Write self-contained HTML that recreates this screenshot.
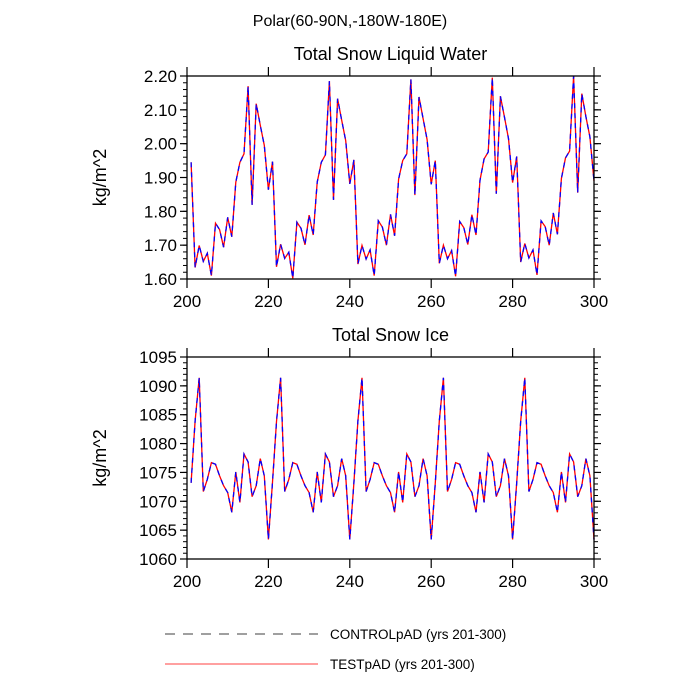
<!DOCTYPE html>
<html><head><meta charset="utf-8"><style>
body{margin:0;background:#fff;}
svg{display:block;font-family:"Liberation Sans",sans-serif;}
</style></head><body>
<svg id="chart" width="700" height="700">
<text x="350" y="26" font-size="16" text-anchor="middle">Polar(60-90N,-180W-180E)</text>
<g id="top"></g>
<g id="bot"></g>
<line x1="165" y1="634" x2="318" y2="634" stroke="#000" stroke-width="0.8" stroke-dasharray="10,8"/>
<text x="330" y="639" font-size="13.5">CONTROLpAD (yrs 201-300)</text>
<line x1="165" y1="664" x2="318" y2="664" stroke="#f00" stroke-width="0.8"/>
<text x="330" y="669" font-size="13.5">TESTpAD (yrs 201-300)</text>
</svg>
<script>
const years = [];
for (let y = 201; y <= 300; y++) years.push(y);
const liquidWater = [
1.945,1.634,1.699,1.652,1.676,1.610,1.765,1.746,1.694,1.782,1.725,1.886,1.945,1.970,2.170,1.819,2.118,2.054,1.995,1.864,
1.947,1.636,1.703,1.661,1.679,1.602,1.768,1.750,1.701,1.789,1.730,1.886,1.945,1.967,2.185,1.834,2.133,2.069,2.009,1.881,
1.952,1.644,1.699,1.659,1.686,1.610,1.772,1.753,1.700,1.791,1.728,1.895,1.950,1.970,2.190,1.848,2.138,2.074,2.012,1.880,
1.950,1.646,1.700,1.660,1.684,1.608,1.770,1.752,1.702,1.790,1.730,1.892,1.955,1.975,2.195,1.852,2.140,2.078,2.015,1.885,
1.962,1.650,1.705,1.662,1.686,1.612,1.772,1.755,1.700,1.795,1.732,1.897,1.958,1.978,2.200,1.855,2.148,2.080,2.020,1.890];
const snowIce = [
1073.2,1083.9,1091.4,1071.7,1073.8,1076.7,1076.4,1074.4,1072.7,1071.5,1068.1,1075.1,1069.8,1078.2,1076.8,1070.8,1072.7,1077.4,1074.4,1063.4,
1073.3,1083.8,1091.4,1071.7,1073.8,1076.7,1076.4,1074.4,1072.7,1071.5,1068.1,1075.1,1069.8,1078.2,1076.8,1070.8,1072.7,1077.4,1074.4,1063.4,
1073.2,1083.9,1091.4,1071.7,1073.8,1076.7,1076.4,1074.4,1072.7,1071.5,1068.1,1075.1,1069.8,1078.2,1076.8,1070.8,1072.7,1077.4,1074.4,1063.4,
1073.2,1083.9,1091.4,1071.7,1073.8,1076.7,1076.4,1074.4,1072.7,1071.5,1068.1,1075.1,1069.8,1078.2,1076.8,1070.8,1072.7,1077.4,1074.4,1063.4,
1073.2,1083.9,1091.4,1071.7,1073.8,1076.7,1076.4,1074.4,1072.7,1071.5,1068.1,1075.1,1069.8,1078.2,1076.8,1070.8,1072.7,1077.4,1074.4,1063.4];
const xTicks = [200,220,240,260,280,300];
const topYTicks = ["1.60","1.70","1.80","1.90","2.00","2.10","2.20"];
const botYTicks = ["1060","1065","1070","1075","1080","1085","1090","1095"];

const NS="http://www.w3.org/2000/svg";
function mk(tag, attrs, parent){const e=document.createElementNS(NS,tag);for(const k in attrs)e.setAttribute(k,attrs[k]);parent.appendChild(e);return e;}

function panel(g, name, title, vals, yTicks, yMin, yMax, minorStep, top, bottom){
  const L=187,R=594;
  const xs=v=>L+(v-200)/100*(R-L);
  const ys=v=>bottom-(v-yMin)/(yMax-yMin)*(bottom-top);
  const t=mk('text',{x:(L+R)/2,y:top-16,'font-size':18,'text-anchor':'middle'},g);t.textContent=title;
  
  
  const yt=mk('text',{x:0,y:0,'font-size':18,'text-anchor':'middle',transform:`translate(106,${(top+bottom)/2}) rotate(-90)`},g);yt.textContent='kg/m^2';
  
  
  for(let v=yMin; v<=yMax+1e-9; v+=minorStep){
    const y=ys(v);
    const m1=mk('line',{x1:L-4,x2:L,y1:y,y2:y,stroke:'#000','stroke-width':1},g);
    
    
    const m2=mk('line',{x1:R,x2:R+4,y1:y,y2:y,stroke:'#000','stroke-width':1},g);
    
    
  }
  yTicks.forEach(s=>{
    const y=ys(parseFloat(s));
    const a=mk('line',{x1:L-7,x2:L,y1:y,y2:y,stroke:'#000','stroke-width':1.2},g);
    
    
    const b=mk('line',{x1:R,x2:R+7,y1:y,y2:y,stroke:'#000','stroke-width':1.2},g);
    
    
    const lb=mk('text',{x:L-10,y:y+6,'font-size':17,'text-anchor':'end'},g);lb.textContent=s;
    
    
  });
  xTicks.forEach(v=>{
    const x=xs(v);
    const a=mk('line',{x1:x,x2:x,y1:bottom,y2:bottom+9,stroke:'#000','stroke-width':1.2},g);
    
    
    const b=mk('line',{x1:x,x2:x,y1:top-9,y2:top,stroke:'#000','stroke-width':1.2},g);
    
    
    const lb=mk('text',{x:x,y:bottom+28,'font-size':17,'text-anchor':'middle'},g);lb.textContent=v;
    
    
  });
  const pts=vals.map((v,i)=>xs(years[i]).toFixed(1)+','+ys(v).toFixed(1)).join(' ');
  const red=mk('polyline',{points:pts,fill:'none',stroke:'#f00','stroke-width':1.3},g);
  
  
  const blue=mk('polyline',{points:pts,fill:'none',stroke:'#00f','stroke-width':1.3,'stroke-dasharray':'5,5'},g);
  
  
  const box=mk('rect',{x:L,y:top,width:R-L,height:bottom-top,fill:'none',stroke:'#000','stroke-width':1.3},g);
  
  
}
panel(document.getElementById('top'),'top-panel','Total Snow Liquid Water',liquidWater,topYTicks,1.60,2.20,0.02,76,279);
panel(document.getElementById('bot'),'bottom-panel','Total Snow Ice',snowIce,botYTicks,1060,1095,1,357,559);
</script>
</body></html>
